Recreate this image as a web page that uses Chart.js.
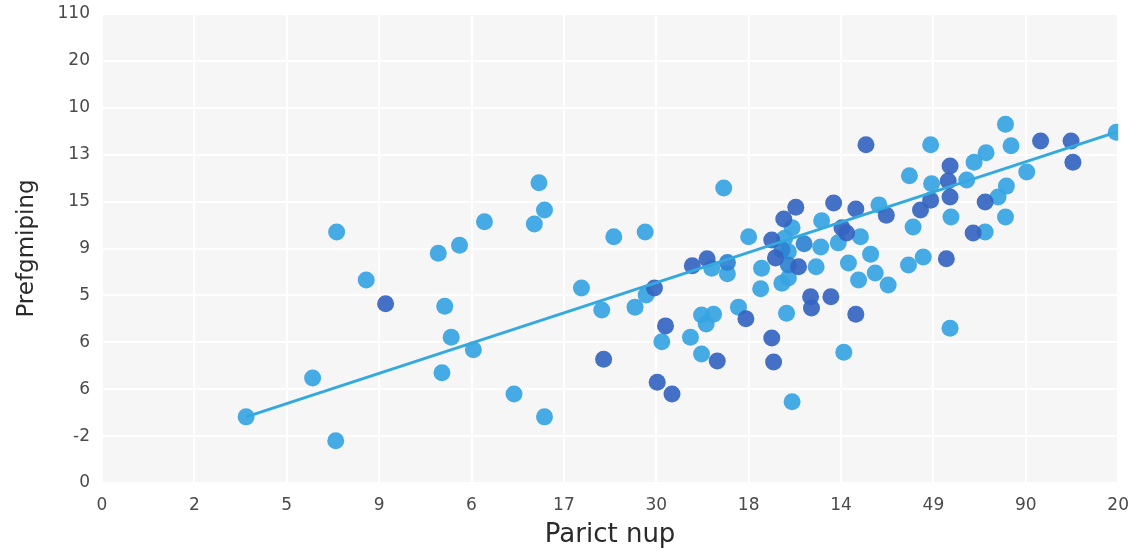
<!DOCTYPE html>
<html>
<head>
<meta charset="utf-8">
<script src="https://cdn.jsdelivr.net/npm/chart.js@4.4.1/dist/chart.umd.min.js"></script>
<style>
  html, body { margin: 0; padding: 0; background: #ffffff; }
  #wrap { width: 1141px; height: 553px; }
</style>
</head>
<body>
<div id="wrap"><canvas id="scatterChart"></canvas></div>
<script>
// Tick labels, one per grid step
const xLabels = ["0", "2", "5", "9", "6", "17", "30", "18", "14", "49", "90", "20"];
const yLabels = ["0", "-2", "6", "6", "5", "9", "15", "13", "10", "20", "110"];

// Light blue points
const lightPoints = [
    [1.56, 1.41], [2.28, 2.24], [2.53, 0.90], [2.54, 5.35], [2.86, 4.33],
    [3.64, 4.90], [3.71, 3.77], [3.78, 3.11], [3.68, 2.35], [3.87, 5.07],
    [4.02, 2.84], [4.14, 5.57], [4.46, 1.90], [4.73, 6.40], [4.68, 5.52],
    [4.79, 5.82], [4.79, 1.41], [5.19, 4.16], [5.41, 3.69], [5.54, 5.25],
    [5.77, 3.75], [5.88, 5.35], [5.89, 4.01], [6.06, 3.01], [6.37, 3.11],
    [6.49, 3.58], [6.54, 3.39], [6.49, 2.75], [6.62, 3.60], [6.60, 4.58],
    [6.73, 6.29], [6.77, 4.46], [6.89, 3.75], [7.00, 5.25], [7.14, 4.58],
    [7.13, 4.14], [7.36, 4.26], [7.41, 3.62], [7.47, 1.73], [7.43, 4.37],
    [7.43, 4.93], [7.39, 5.22], [7.47, 5.44], [7.73, 4.61], [7.78, 5.03],
    [7.79, 5.59], [7.97, 5.12], [8.03, 2.79], [8.08, 4.69], [8.21, 5.25],
    [8.19, 4.33], [8.32, 4.88], [8.37, 4.48], [8.41, 5.93], [8.51, 4.22],
    [8.74, 6.55], [8.73, 4.65], [8.78, 5.46], [8.89, 4.82], [8.97, 7.21],
    [8.98, 6.38], [9.18, 3.30], [9.19, 5.67], [9.36, 6.46], [9.44, 6.84],
    [9.56, 5.35], [9.57, 7.04], [9.70, 6.10], [9.79, 6.33], [9.78, 7.65],
    [9.78, 5.67], [9.84, 7.19], [10.01, 6.63], [10.98, 7.48]
];

// Medium blue points
const midPoints = [
    [7.36, 4.97], [7.43, 4.65], [6.77, 4.70], [7.60, 5.10]
];

// Dark blue points
const darkPoints = [
    [3.07, 3.82], [5.43, 2.64], [5.98, 4.16], [6.10, 3.35], [6.01, 2.15],
    [6.17, 1.90], [6.39, 4.63], [6.55, 4.78], [6.66, 2.60], [6.97, 3.50],
    [7.25, 3.09], [7.27, 2.58], [7.25, 5.18], [7.29, 4.80], [7.38, 5.63],
    [7.51, 5.88], [7.54, 4.61], [7.67, 3.97], [7.89, 3.97], [7.68, 3.73],
    [7.92, 5.97], [8.01, 5.44], [8.06, 5.33], [8.16, 3.60], [8.16, 5.84],
    [8.27, 7.21], [8.49, 5.71], [8.86, 5.82], [8.97, 6.03], [9.14, 4.78],
    [9.16, 6.44], [9.18, 6.76], [9.18, 6.10], [9.43, 5.33], [9.56, 5.99],
    [10.16, 7.29], [10.49, 7.29], [10.51, 6.84]
];

// Trend line end points
const trendLine = [[1.56, 1.41], [10.98, 7.48]];

function toXY(list) {
    return list.map(p => ({ x: p[0], y: p[1] }));
}

// Light gray plot background
const plotBackground = {
    id: "plotBackground",
    beforeDraw(chart) {
        const { ctx, chartArea } = chart;
        ctx.save();
        ctx.fillStyle = "#f6f6f6";
        ctx.fillRect(chartArea.left, chartArea.top, chartArea.right - chartArea.left, chartArea.bottom - chartArea.top);
        ctx.restore();
    }
};

const tickFont = { family: "'DejaVu Sans', sans-serif", size: 17 };

new Chart(document.getElementById("scatterChart"), {
    type: "scatter",
    data: {
        datasets: [
            {
                type: "line",
                data: toXY(trendLine),
                borderColor: "#34a9df",
                borderWidth: 3,
                pointRadius: 0,
                fill: false
            },
            {
                data: toXY(darkPoints),
                backgroundColor: "rgba(52, 100, 192, 0.92)",
                borderWidth: 0,
                pointRadius: 8.5
            },
            {
                data: toXY(midPoints),
                backgroundColor: "rgba(46, 130, 210, 0.92)",
                borderWidth: 0,
                pointRadius: 8.5
            },
            {
                data: toXY(lightPoints),
                backgroundColor: "rgba(54, 164, 226, 0.92)",
                borderWidth: 0,
                pointRadius: 8.5
            }
        ]
    },
    options: {
        responsive: true,
        maintainAspectRatio: false,
        animation: false,
        layout: { padding: { top: 14, right: 21, left: 13, bottom: 0 } },
        plugins: {
            legend: { display: false },
            tooltip: { enabled: false }
        },
        scales: {
            x: {
                type: "linear",
                min: 0,
                max: 11,
                afterFit: s => { s.height = 70; },
                border: { display: false },
                grid: { color: "#ffffff", lineWidth: 2, drawTicks: false },
                ticks: {
                    stepSize: 1,
                    padding: 12,
                    color: "#4a4a4a",
                    font: tickFont,
                    maxRotation: 0,
                    autoSkip: false,
                    callback: v => xLabels[v]
                },
                title: {
                    display: true,
                    text: "Parict nup",
                    color: "#2a2a2a",
                    font: { family: "'DejaVu Sans', sans-serif", size: 26 },
                    padding: { top: 0, bottom: 2 }
                }
            },
            y: {
                type: "linear",
                min: 0,
                max: 10,
                afterFit: s => { s.width = 89; s.paddingTop = 0; },
                border: { display: false },
                grid: { color: "#ffffff", lineWidth: 2, drawTicks: false },
                ticks: {
                    stepSize: 1,
                    padding: 12,
                    color: "#4a4a4a",
                    font: tickFont,
                    autoSkip: false,
                    callback: v => yLabels[v]
                },
                title: {
                    display: true,
                    text: "Prefgmiping",
                    color: "#2a2a2a",
                    font: { family: "'DejaVu Sans', sans-serif", size: 23 },
                    padding: { top: 0, bottom: 0 }
                }
            }
        }
    },
    plugins: [plotBackground]
});
</script>
</body>
</html>
